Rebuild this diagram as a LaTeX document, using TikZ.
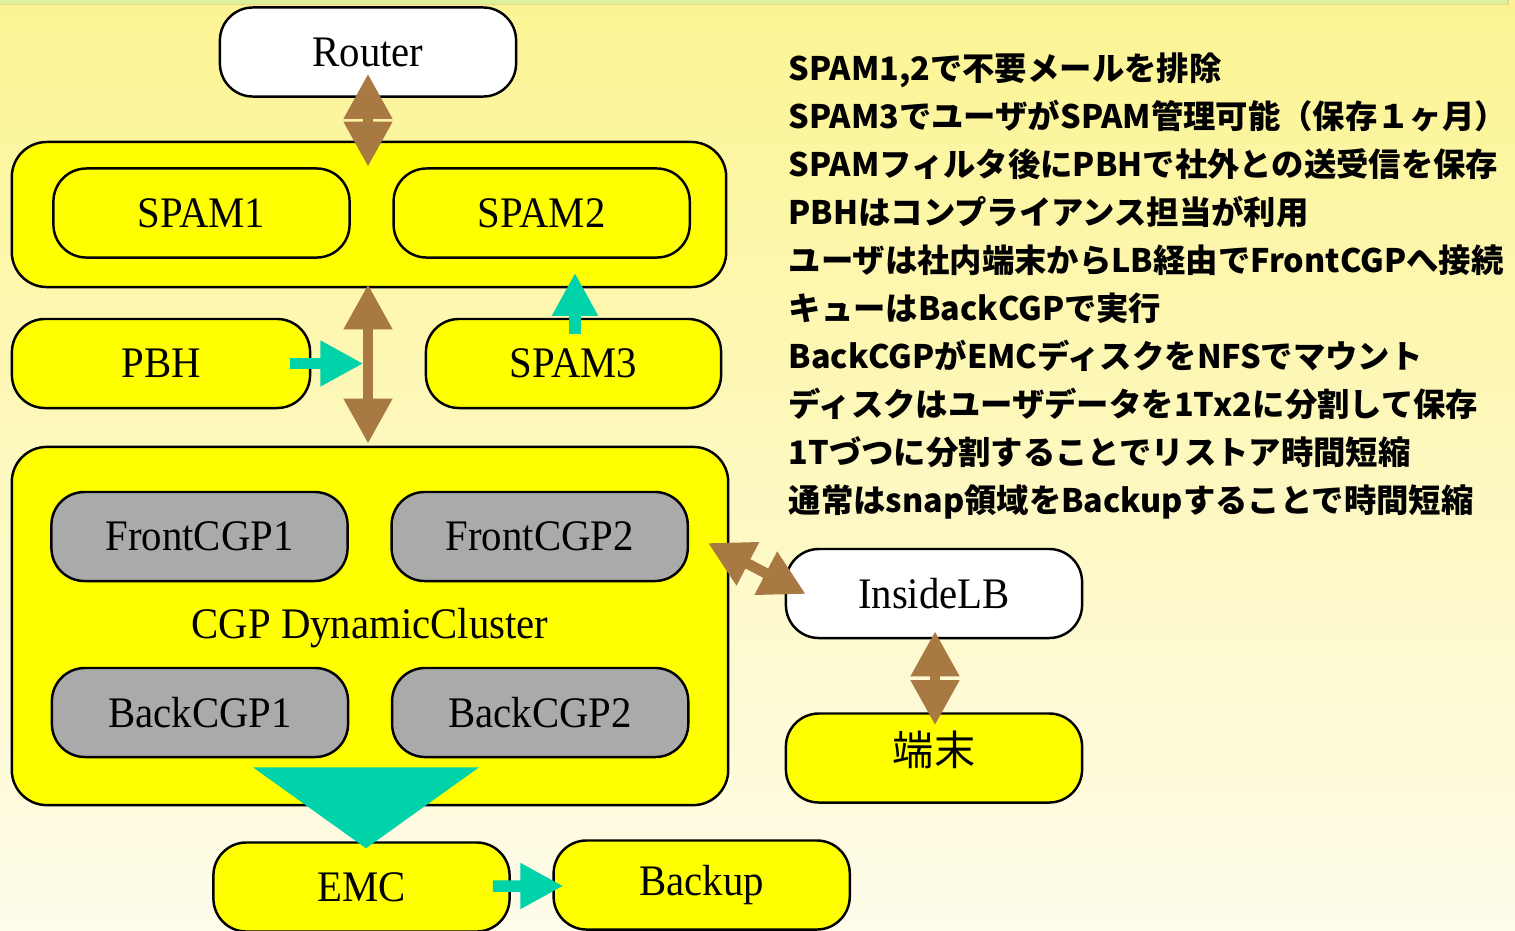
\documentclass[tikz,border=0pt]{standalone}
\usepackage{fontspec}
\setmainfont{Liberation Serif}[FakeStretch=0.935]
\newfontfamily\jpfont{Noto Sans CJK JP}
\usetikzlibrary{arrows.meta, positioning, calc}
\definecolor{hostyellow}{HTML}{FFFF00}
\definecolor{hostgray}{HTML}{AAAAAA}
\definecolor{linkbrown}{HTML}{A87942}
\definecolor{flowteal}{HTML}{00D2AA}
\definecolor{bgtop}{HTML}{FCF493}
\definecolor{bgbottom}{HTML}{FEFCEA}
\definecolor{bandgreen}{HTML}{DFF09B}
\definecolor{bandedge}{HTML}{E4D98B}
\tikzstyle{hostbox} = [rectangle, rounded corners=0.33cm, minimum width=2.96cm, minimum height=0.89cm, text centered, draw=black, line width=0.7pt, fill=hostyellow, font=\fontsize{12.4}{14}\selectfont]
\tikzstyle{routerbox} = [hostbox, fill=white]
\tikzstyle{cgpbox} = [hostbox, fill=hostgray]
\tikzstyle{groupbox} = [rectangle, rounded corners=0.35cm, inner sep=0pt, draw=black, line width=0.7pt, fill=hostyellow]
\tikzstyle{linkarrow} = [{Triangle[length=4.5mm,width=4.6mm]}-{Triangle[length=4.5mm,width=4.6mm]}, draw=linkbrown, fill=linkbrown, line width=1.05mm]
\tikzstyle{flowarrow} = [-{Triangle[length=4.3mm,width=4.3mm]}, draw=flowteal, fill=flowteal, line width=1.15mm]

\begin{document}
\begin{tikzpicture}[x=0.01cm, y=-0.01cm, node distance=3.4cm]
\useasboundingbox (0,0) rectangle (1515,930);
% background
\shade[top color=bgtop, bottom color=bgbottom] (0,0) rectangle (1515,930);
\fill[bandgreen] (0,0) rectangle (1508,4);
\draw[bandedge, line width=0.5pt] (0,4.5) -- (1508,4.5) -- (1508,0);

% groups
\node (spamgroup) [groupbox, minimum width=7.14cm, minimum height=1.45cm] at (369,214.5) {};
\node (cgpgroup) [groupbox, minimum width=7.16cm, minimum height=3.58cm] at (370,626) {};

\node (router) [routerbox] at (368,52) {Router};
\node (spamone) [hostbox] at (201.5,213) {SPAM1};
\node (spamtwo) [hostbox, right of=spamone] {SPAM2};
\node (pbh) [hostbox, minimum width=2.98cm] at (161,363.5) {PBH};
\node (spamthree) [hostbox, minimum width=2.95cm] at (573.5,363.5) {SPAM3};
\node (frontone) [cgpbox] at (199.5,536.5) {FrontCGP1};
\node (fronttwo) [cgpbox, right of=frontone] {FrontCGP2};
\node (cgplabel) [font=\fontsize{12.4}{14}\selectfont] at (370,628) {CGP DynamicCluster};
\node (backone) [cgpbox] at (200,712.5) {BackCGP1};
\node (backtwo) [cgpbox, right of=backone] {BackCGP2};
\node (emc) [hostbox] at (361.5,887) {EMC};
\node (backup) [hostbox, right of=emc, yshift=0.02cm] {Backup};
\node (insidelb) [routerbox] at (934,593.5) {InsideLB};
\node (terminal) [hostbox, font=\jpfont\fontsize{11.7}{14}\selectfont] at (934,758) {\raisebox{0.2cm}{端末}};

% notes
\node (notes) [anchor=north west, align=left, inner sep=0pt, font=\jpfont\bfseries\fontsize{9.2}{13.66}\selectfont] at (788,52) {SPAM1,2で不要メールを排除\\
SPAM3でユーザがSPAM管理可能（保存１ヶ月）\\
SPAMフィルタ後にPBHで社外との送受信を保存\\
PBHはコンプライアンス担当が利用\\
ユーザは社内端末からLB経由でFrontCGPへ接続\\
キューはBackCGPで実行\\
BackCGPがEMCディスクをNFSでマウント\\
ディスクはユーザデータを1Tx2に分割して保存\\
1Tづつに分割することでリストア時間短縮\\
通常はsnap領域をBackupすることで時間短縮};

% connectors
\draw [linkarrow] ($(router.south)+(0,-24)$) -- ($(spamgroup.north)+(-1,26)$);
\draw [linkarrow] ($(spamgroup.south)+(-1,-4)$) -- ($(cgpgroup.north)+(-2,-2)$);
\draw [linkarrow] ($(fronttwo.east)+(19,6.5)$) -- ($(insidelb.west)+(21,0.5)$);
\draw [linkarrow] ($(insidelb.south)+(1,-8)$) -- ($(terminal.north)+(1,13)$);
\draw [flowarrow] ($(pbh.east)+(-21,0)$) -- ($(pbh.east)+(52,0)$);
\draw [flowarrow] ($(spamthree.north)+(1.5,16)$) -- ($(spamthree.north)+(1.5,-45)$);
\draw [flowarrow] ($(emc.east)+(-18,-1)$) -- ($(backup.west)+(11,1)$);
\fill [flowteal] ($(cgpgroup.south)+(-117,-39)$) -- ($(cgpgroup.south)+(109,-39)$) -- ($(emc.north)+(4.5,7)$) -- cycle;
\end{tikzpicture}
\end{document}
